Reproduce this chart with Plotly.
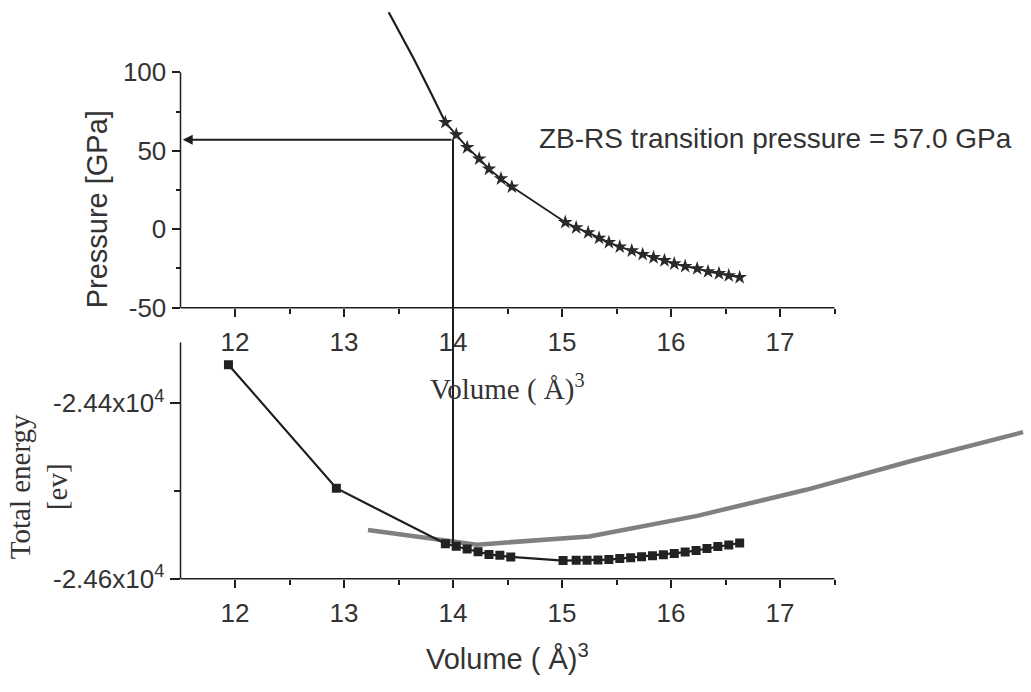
import plotly.graph_objects as go

# ---------------- data ----------------
pressure_fit_v = [13.41, 13.64, 13.79, 13.93]
pressure_fit_p = [138.2, 108.6, 87.9, 68.1]

star_v = [13.93, 14.03, 14.13, 14.24, 14.33, 14.44, 14.54, 15.03, 15.13, 15.24, 15.34, 15.43,
          15.53, 15.64, 15.74, 15.84, 15.94, 16.03, 16.13, 16.24, 16.34, 16.44, 16.53, 16.63]
star_p = [68.1, 60.2, 52.1, 44.9, 38.4, 32.2, 27.0, 4.4, 1.0, -2.1, -5.6, -8.4,
          -11.2, -13.7, -16.0, -18.0, -19.9, -22.0, -23.6, -25.1, -27.0, -28.2, -29.5, -30.7]

energy_v = [11.94, 12.93, 13.93, 14.03, 14.13, 14.23, 14.33, 14.43, 14.53, 15.01, 15.13, 15.23,
            15.33, 15.43, 15.53, 15.63, 15.73, 15.83, 15.93, 16.03, 16.13, 16.23, 16.33, 16.43,
            16.53, 16.63]
energy_e = [-24355.9, -24496.7, -24560.0, -24562.8, -24566.1, -24569.1, -24572.1, -24573.2,
            -24575.0, -24579.2, -24578.8, -24578.8, -24578.4, -24578.0, -24576.9, -24575.8,
            -24574.7, -24573.6, -24572.5, -24571.0, -24569.5, -24567.7, -24565.4, -24563.2,
            -24561.3, -24559.1]

rs_v = [13.22, 14.22, 15.25, 16.24, 17.24, 18.22, 19.23]
rs_e = [-24544.3, -24561.0, -24551.6, -24528.2, -24498.5, -24465.1, -24432.8]

transition_v = 14.0
transition_p = 57.0
transition_e = -24561.0

x_ticks = [12, 13, 14, 15, 16, 17]
x_minor = [12.5, 13.5, 14.5, 15.5, 16.5, 17.5]
p_ticks = [-50, 0, 50, 100]
p_ticktext = ["-50", "0", "50", "100"]
p_minor = [-25, 25, 75]
e_ticks = [-24600, -24400]
e_ticktext = ["-2.46x10<sup>4</sup>", "-2.44x10<sup>4</sup>"]
e_minor = [-24500]

# ---------------- layout geometry ----------------
W, H = 1031, 692
X_DOM = [180.5 / W, 1.0]
X_RNG = [11.5, 11.5 + (W - 180.5) / 109.0]
Y2_DOM = [1 - 314.5 / H, 1.0]
Y2_RNG = [-50, -50 + 314.5 / 1.604]
Y_DOM = [1 - 591.7 / H, 1 - 350 / H]
Y_RNG = [-24600, -24600 + 241.7 / 0.897]
AX_END = 17.5


def py(val, dom, rng):
    return dom[0] + (val - rng[0]) / (rng[1] - rng[0]) * (dom[1] - dom[0])


INK = "#1e1e1e"
TXT = "#333333"
SANS = "Arial, Liberation Sans, sans-serif"
SERIF = "Times New Roman, Liberation Serif, serif"

fig = go.Figure()

fig.add_trace(go.Scatter(x=pressure_fit_v, y=pressure_fit_p, mode="lines",
                         line=dict(color=INK, width=2.2), xaxis="x2", yaxis="y2",
                         showlegend=False))
fig.add_trace(go.Scatter(x=star_v, y=star_p, mode="lines+markers",
                         line=dict(color=INK, width=1.8),
                         marker=dict(symbol="star", size=11, color="#2a2a2a"),
                         xaxis="x2", yaxis="y2", showlegend=False))
fig.add_trace(go.Scatter(x=rs_v, y=rs_e, mode="lines",
                         line=dict(color="#808080", width=4.5), xaxis="x", yaxis="y",
                         showlegend=False))
fig.add_trace(go.Scatter(x=energy_v, y=energy_e, mode="lines+markers",
                         line=dict(color=INK, width=2.2),
                         marker=dict(symbol="square", size=9, color="#222222"),
                         xaxis="x", yaxis="y", showlegend=False))

tickfont = dict(family=SANS, size=26, color=TXT)
common_x = dict(domain=X_DOM, range=X_RNG, showgrid=False, zeroline=False, showline=False,
                tickmode="array", tickvals=x_ticks, ticks="outside", ticklen=8, tickwidth=1.5,
                tickcolor=INK, tickfont=tickfont,
                minor=dict(tickmode="array", tickvals=x_minor, ticks="outside", ticklen=5,
                           tickwidth=1.5, tickcolor=INK, showgrid=False))

fig.update_layout(
    width=W, height=H, autosize=False,
    margin=dict(l=0, r=0, t=0, b=0),
    paper_bgcolor="white", plot_bgcolor="white",
    xaxis=dict(anchor="y", ticklabelstandoff=3, **common_x),
    xaxis2=dict(anchor="y2", ticklabelstandoff=3, **common_x),
    yaxis=dict(domain=Y_DOM, range=Y_RNG, anchor="x", showgrid=False, zeroline=False,
               showline=False, tickmode="array", tickvals=e_ticks, ticktext=e_ticktext,
               ticks="outside", ticklen=10, tickwidth=1.5, tickcolor=INK, tickfont=tickfont,
               ticklabelstandoff=0,
               minor=dict(tickmode="array", tickvals=e_minor, ticks="outside", ticklen=6,
                          tickwidth=1.5, tickcolor=INK, showgrid=False)),
    yaxis2=dict(domain=Y2_DOM, range=Y2_RNG, anchor="x2", showgrid=False, zeroline=False,
                showline=False, tickmode="array", tickvals=p_ticks, ticktext=p_ticktext,
                ticks="outside", ticklen=8, tickwidth=1.5, tickcolor=INK, tickfont=tickfont,
                ticklabelstandoff=0,
                minor=dict(tickmode="array", tickvals=p_minor, ticks="outside", ticklen=4,
                           tickwidth=1.5, tickcolor=INK, showgrid=False)),
)

# axis lines
line_style = dict(color=INK, width=1.5)
fig.add_shape(type="line", xref="x2", yref="paper", x0=X_RNG[0], x1=AX_END,
              y0=Y2_DOM[0], y1=Y2_DOM[0], line=line_style)
fig.add_shape(type="line", xref="paper", yref="paper", x0=X_DOM[0], x1=X_DOM[0],
              y0=Y2_DOM[0], y1=py(p_ticks[-1], Y2_DOM, Y2_RNG), line=line_style)
fig.add_shape(type="line", xref="x", yref="paper", x0=X_RNG[0], x1=AX_END,
              y0=Y_DOM[0], y1=Y_DOM[0], line=line_style)
fig.add_shape(type="line", xref="paper", yref="paper", x0=X_DOM[0], x1=X_DOM[0],
              y0=Y_DOM[0], y1=Y_DOM[1], line=line_style)

# transition vertical line (through both panels)
fig.add_shape(type="line", xref="x", yref="paper", x0=transition_v, x1=transition_v,
              y0=py(transition_e, Y_DOM, Y_RNG), y1=py(transition_p, Y2_DOM, Y2_RNG),
              line=dict(color=INK, width=2))

# horizontal arrow to the pressure axis
fig.add_annotation(x=X_RNG[0] + 0.02, y=transition_p, xref="x2", yref="y2",
                   ax=transition_v, ay=transition_p, axref="x2", ayref="y2",
                   text="", showarrow=True, arrowhead=2, arrowsize=1, arrowwidth=2,
                   arrowcolor=INK)

fig.add_annotation(x=537 / W, y=1 - 142 / H, xref="paper", yref="paper",
                   text="ZB-RS transition pressure = %.1f GPa" % transition_p,
                   showarrow=False, xanchor="left", yanchor="middle",
                   font=dict(family=SANS, size=28, color=TXT))

fig.add_annotation(x=97 / W, y=1 - 214 / H, xref="paper", yref="paper",
                   text="Pressure [GPa]", textangle=-90, showarrow=False,
                   xanchor="center", yanchor="middle",
                   font=dict(family=SANS, size=29, color=TXT))

fig.add_annotation(x=(X_RNG[0] + AX_END) / 2, y=1 - 396 / H, xref="x2", yref="paper",
                   text="Volume ( Å)<sup>3</sup>", showarrow=False,
                   xanchor="center", yanchor="middle",
                   font=dict(family=SERIF, size=29, color=TXT))

fig.add_annotation(x=(X_RNG[0] + AX_END) / 2, y=1 - 672 / H, xref="x", yref="paper",
                   text="Volume ( Å)<sup>3</sup>", showarrow=False,
                   xanchor="center", yanchor="middle",
                   font=dict(family=SANS, size=29, color=TXT))

fig.add_annotation(x=39 / W, y=1 - 498 / H, xref="paper", yref="paper",
                   text="Total energy<br>[ev]", textangle=-90, showarrow=False,
                   xanchor="center", yanchor="middle",
                   font=dict(family=SERIF, size=29, color=TXT))

fig.write_html("out.html")
